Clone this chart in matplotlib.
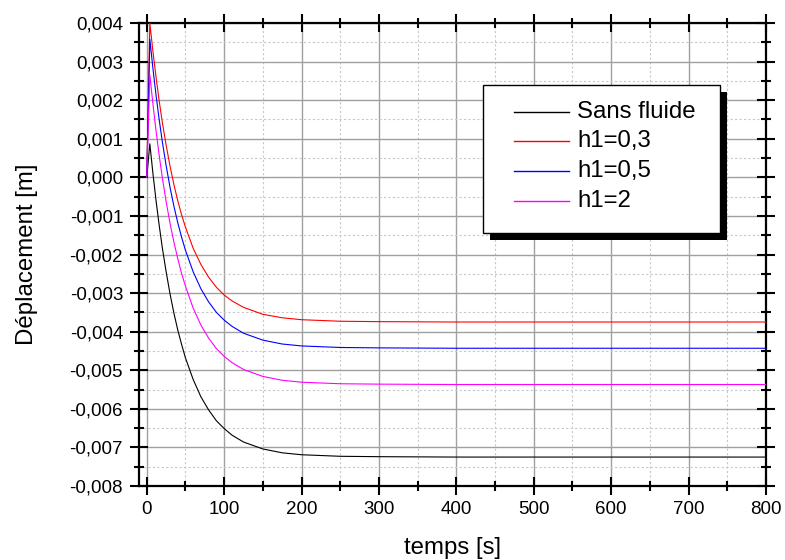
import matplotlib
matplotlib.use("Agg")
import matplotlib.pyplot as plt
from matplotlib.ticker import MultipleLocator, FuncFormatter
from matplotlib.patches import Rectangle
from matplotlib.lines import Line2D

plt.rcParams['font.family'] = ['Liberation Sans', 'DejaVu Sans']

t = [0, 4, 8, 12, 16, 20, 25, 30, 35, 40, 45, 50, 60, 70, 80, 90, 100, 110,
     125, 150, 175, 200, 250, 300, 400, 500, 600, 700, 800]

sans_fluide = [0.0, 0.00087, 0.00010, -0.00060, -0.00123, -0.00181, -0.00244,
               -0.00301, -0.00351, -0.00395, -0.00433, -0.00468, -0.00524,
               -0.00569, -0.00603, -0.00631, -0.00651, -0.00668, -0.00686,
               -0.00704, -0.00714, -0.00719, -0.00723, -0.00724, -0.00725,
               -0.00725, -0.00725, -0.00725, -0.00725]

h1_03 = [0.0, 0.00400, 0.00326, 0.00260, 0.00199, 0.00144, 0.00084, 0.00030,
         -0.00018, -0.00060, -0.00097, -0.00129, -0.00184, -0.00226, -0.00259,
         -0.00285, -0.00305, -0.00320, -0.00337, -0.00355, -0.00364, -0.00369,
         -0.00373, -0.00374, -0.00375, -0.00375, -0.00375, -0.00375, -0.00375]

h1_05 = [0.0, 0.00358, 0.00282, 0.00213, 0.00151, 0.00094, 0.00031, -0.00025,
         -0.00074, -0.00117, -0.00155, -0.00189, -0.00245, -0.00289, -0.00323,
         -0.00350, -0.00370, -0.00386, -0.00404, -0.00422, -0.00432, -0.00437,
         -0.00441, -0.00442, -0.00443, -0.00443, -0.00443, -0.00443, -0.00443]

h1_2 = [0.0, 0.00266, 0.00190, 0.00121, 0.00058, 0.00001, -0.00062, -0.00118,
        -0.00167, -0.00210, -0.00249, -0.00282, -0.00339, -0.00383, -0.00417,
        -0.00444, -0.00464, -0.00480, -0.00498, -0.00516, -0.00526, -0.00531,
        -0.00535, -0.00536, -0.00537, -0.00537, -0.00537, -0.00537, -0.00537]

series = [sans_fluide, h1_03, h1_05, h1_2]
labels = ["Sans fluide", "h1=0,3", "h1=0,5", "h1=2"]
colors = ["#000000", "#ff0000", "#0000ff", "#ff00ff"]

W, H = 785, 560
AX_L, AX_R, AX_T, AX_B = 139, 766, 23, 486

fig = plt.figure(figsize=(W / 100, H / 100), dpi=100)
ax = fig.add_axes([AX_L / W, 1 - AX_B / H, (AX_R - AX_L) / W, (AX_B - AX_T) / H])

for y, lab, c in zip(series, labels, colors):
    ax.plot(t, y, color=c, lw=0.8, label=lab, zorder=3)

ax.set_xlim(-10, 800)
ax.set_ylim(-0.008, 0.004)
ax.xaxis.set_major_locator(MultipleLocator(100))
ax.xaxis.set_minor_locator(MultipleLocator(50))
ax.yaxis.set_major_locator(MultipleLocator(0.001))
ax.yaxis.set_minor_locator(MultipleLocator(0.0005))
ax.yaxis.set_major_formatter(FuncFormatter(
    lambda v, p: f"{v:.3f}".replace('.', ',').replace('-0,000', '0,000')))
ax.xaxis.set_major_formatter(FuncFormatter(lambda v, p: f"{v:.0f}"))

ax.grid(which='major', color='#a0a0a0', lw=1.0, ls='-', zorder=1)
ax.grid(which='minor', color='#c8c8c8', lw=0.8, ls=(0, (2, 2)), zorder=1)
ax.set_axisbelow(True)

for s in ax.spines.values():
    s.set_linewidth(1.6)
ax.tick_params(which='major', direction='inout', length=13, width=1.5,
               top=True, right=True, labelsize=13.5, pad=5)
ax.tick_params(which='minor', direction='inout', length=7, width=1.5,
               top=True, right=True)
ax.tick_params(axis='x', which='major', pad=4)

ax.set_xlabel("temps [s]", fontsize=17.3, labelpad=14)
ax.set_ylabel("Déplacement [m]", fontsize=17.3, labelpad=23)


# legend drawn in axes-fraction coordinates from pixel positions
def fx(px):
    return (px - AX_L) / (AX_R - AX_L)


def fy(py):
    return (AX_B - py) / (AX_B - AX_T)


box_l, box_t, box_r, box_b = 483, 85, 720, 233
sh = 7
ax.add_patch(Rectangle((fx(box_l + sh), fy(box_b + sh)),
                       fx(box_r + sh) - fx(box_l + sh), fy(box_t + sh) - fy(box_b + sh),
                       transform=ax.transAxes, facecolor='black', edgecolor='black',
                       lw=0, zorder=5, clip_on=False))
ax.add_patch(Rectangle((fx(box_l), fy(box_b)), fx(box_r) - fx(box_l), fy(box_t) - fy(box_b),
                       transform=ax.transAxes, facecolor='white', edgecolor='black',
                       lw=1.0, zorder=6, clip_on=False))
row_y = [112, 141, 171, 201]
for ry, lab, c in zip(row_y, labels, colors):
    ax.add_line(Line2D([fx(514), fx(569)], [fy(ry), fy(ry)], transform=ax.transAxes,
                       color=c, lw=1.0, zorder=7, clip_on=False))
    ax.text(fx(577), fy(ry), lab, transform=ax.transAxes, fontsize=17.3,
            va='center', ha='left', zorder=8)

fig.savefig("out.png", dpi=100)
